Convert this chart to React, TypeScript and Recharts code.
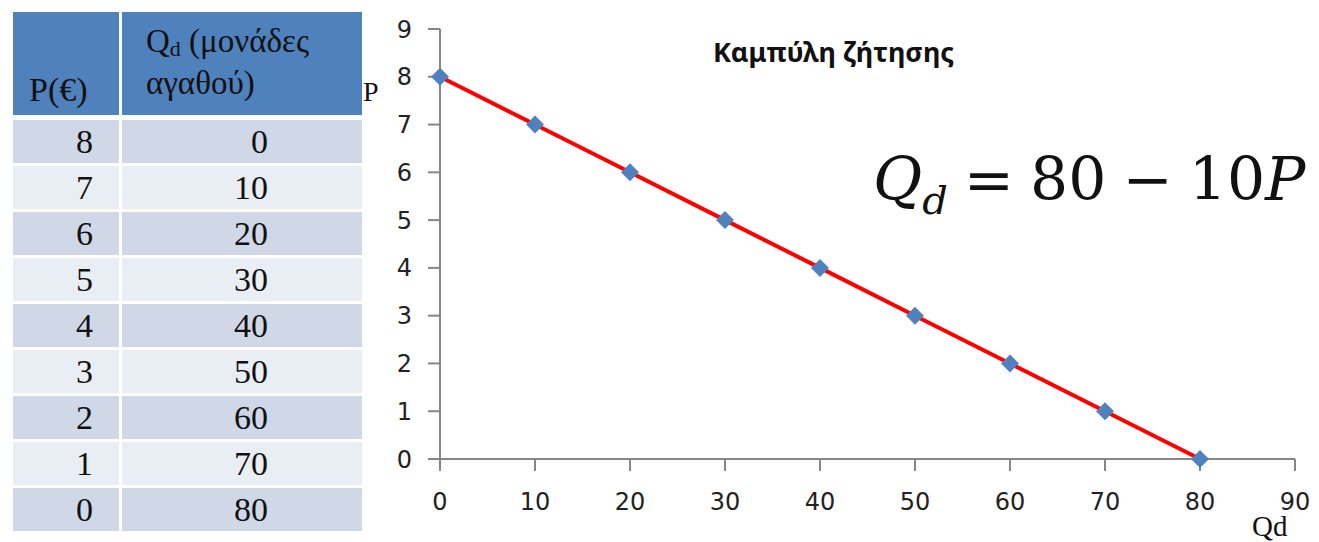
import React from 'react';
import { LineChart, Line, XAxis, YAxis } from 'recharts';

// demand schedule
const prices = [8, 7, 6, 5, 4, 3, 2, 1, 0];
const quantities = [0, 10, 20, 30, 40, 50, 60, 70, 80];
const xTicks = [0, 10, 20, 30, 40, 50, 60, 70, 80, 90];
const yTicks = [0, 1, 2, 3, 4, 5, 6, 7, 8, 9];

const title = 'Καμπύλη ζήτησης';
const headP = 'P(€)';
const headQ1 = 'Q';
const headQ2 = ' (μονάδες';
const headQ3 = 'αγαθού)';

const chartData = quantities.map((q, i) => ({ q, p: prices[i] }));

const Diamond = (props: any) => {
  const { cx, cy } = props;
  if (cx == null || cy == null) return null;
  const s = 9;
  return (
    <path
      d={`M${cx},${cy - s} L${cx + s},${cy} L${cx},${cy + s} L${cx - s},${cy} Z`}
      fill="#4f81bd"
    />
  );
};

const serif = '"Liberation Serif", "DejaVu Serif", serif';
const sans = '"DejaVu Sans", sans-serif';

function Table() {
  const cell = (bg: string, extra: React.CSSProperties = {}): React.CSSProperties => ({
    background: bg,
    height: 43,
    boxSizing: 'border-box',
    display: 'flex',
    alignItems: 'center',
    justifyContent: 'flex-end',
    fontFamily: serif,
    fontSize: 34,
    color: '#111',
    ...extra,
  });
  return (
    <div style={{ position: 'absolute', left: 13, top: 12, width: 349 }}>
      <div style={{ display: 'grid', gridTemplateColumns: '106px 240px', columnGap: 3, height: 103 }}>
        <div
          style={{
            background: '#4f81bd',
            fontFamily: serif,
            fontSize: 34,
            color: '#111',
            display: 'flex',
            alignItems: 'flex-end',
            paddingLeft: 16,
            paddingBottom: 6,
            boxSizing: 'border-box',
          }}
        >
          {headP}
        </div>
        <div
          style={{
            background: '#4f81bd',
            fontFamily: serif,
            fontSize: 33,
            color: '#111',
            paddingLeft: 24,
            paddingTop: 12,
            lineHeight: '35px',
            boxSizing: 'border-box',
          }}
        >
          <div>
            {headQ1}
            <sub style={{ fontSize: 22, verticalAlign: '-4px' }}>d</sub>
            {headQ2}
          </div>
          <div>{headQ3}</div>
        </div>
      </div>
      <div
        style={{
          display: 'grid',
          gridTemplateColumns: '106px 240px',
          columnGap: 3,
          rowGap: 3,
          marginTop: 5,
        }}
      >
        {prices.map((p, i) => {
          const bg = i % 2 === 0 ? '#d0d8e8' : '#e9edf4';
          return (
            <React.Fragment key={i}>
              <div style={cell(bg, { paddingRight: 26 })}>{p}</div>
              <div style={cell(bg, { paddingRight: 94 })}>{quantities[i]}</div>
            </React.Fragment>
          );
        })}
      </div>
    </div>
  );
}

export default function App() {
  return (
    <div
      style={{
        position: 'absolute',
        left: 0,
        top: 0,
        width: 1319,
        height: 542,
        background: '#fff',
        overflow: 'hidden',
      }}
    >
      <Table />
      <div style={{ position: 'absolute', left: 360, top: 0 }}>
        <LineChart
          width={959}
          height={542}
          data={chartData}
          margin={{ top: 29, right: 24, left: 20, bottom: 33 }}
        >
          <XAxis
            type="number"
            dataKey="q"
            domain={[0, 90]}
            ticks={xTicks}
            interval={0}
            height={50}
            stroke="#868686"
            strokeWidth={2}
            tickSize={12}
            tickMargin={22}
            tick={{ fill: '#222', fontSize: 24, fontFamily: sans }}
          />
          <YAxis
            type="number"
            dataKey="p"
            domain={[0, 9]}
            ticks={yTicks}
            interval={0}
            width={60}
            stroke="#868686"
            strokeWidth={2}
            tickSize={12}
            tickMargin={16}
            tick={{ fill: '#222', fontSize: 24, fontFamily: sans }}
          />
          <Line
            type="linear"
            dataKey="p"
            stroke="#ff0000"
            strokeWidth={4}
            dot={<Diamond />}
            activeDot={false}
            isAnimationActive={false}
          />
        </LineChart>
      </div>
      <div
        style={{
          position: 'absolute',
          left: 713,
          top: 33,
          fontFamily: '"Noto Sans", sans-serif',
          fontWeight: 700,
          fontSize: 27,
          color: '#111',
          whiteSpace: 'nowrap',
        }}
      >
        {title}
      </div>
      <div style={{ position: 'absolute', left: 363, top: 76, fontFamily: serif, fontSize: 28, color: '#111' }}>P</div>
      <div style={{ position: 'absolute', left: 1252, top: 510, fontFamily: serif, fontSize: 29, color: '#111' }}>
        Qd
      </div>
      <div
        style={{
          position: 'absolute',
          left: 873,
          top: 144,
          fontFamily: '"DejaVu Serif", serif',
          fontSize: 60,
          lineHeight: '70px',
          color: '#111',
          whiteSpace: 'nowrap',
        }}
      >
        <i>Q</i>
        <i style={{ fontSize: 40, position: 'relative', top: 14 }}>d</i>
        <span style={{ margin: '0 16px' }}>=</span>
        <span>80</span>
        <span style={{ margin: '0 16px' }}>−</span>
        <span>10</span>
        <i>P</i>
      </div>
    </div>
  );
}
